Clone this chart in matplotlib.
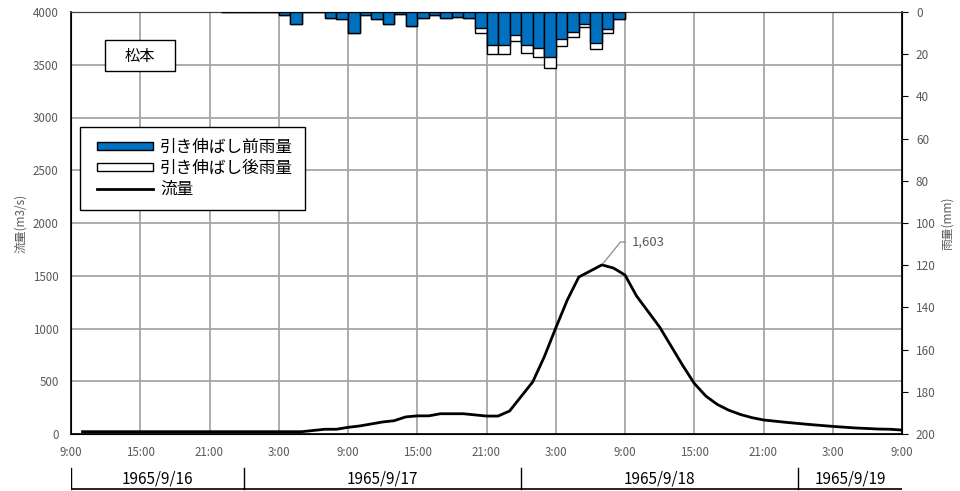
import numpy as np
import matplotlib
matplotlib.use("Agg")
import matplotlib.pyplot as plt
from matplotlib.patches import Patch, Rectangle
from matplotlib.lines import Line2D
from matplotlib.legend_handler import HandlerPatch, HandlerLine2D

plt.rcParams['font.family'] = ['Noto Sans CJK JP', 'DejaVu Sans']

# hours counted from 1965/9/16 9:00
rain_hours = list(range(13, 48))
# rainfall before stretching (mm/h)
rain_before = [0.2, 0.2, 0.2, 0.2, 0.2, 1.2, 5.7, 0.2, 0.0, 3.0,
               3.5, 10.0, 1.5, 3.4, 5.7, 1.0, 6.8, 3.0, 1.2, 3.0,
               2.2, 3.0, 7.8, 15.7, 15.6, 10.8, 15.6, 17.2, 21.2, 13.0,
               9.6, 5.7, 14.6, 8.0, 3.4]
# rainfall after stretching (mm/h)
rain_after = [0.2, 0.2, 0.2, 0.2, 0.2, 1.2, 5.7, 0.2, 0.0, 3.0,
              3.5, 10.0, 1.5, 3.4, 5.7, 1.0, 6.8, 3.0, 1.2, 3.0,
              2.2, 3.0, 10.1, 20.0, 20.0, 13.8, 19.3, 21.5, 26.5, 16.0,
              11.7, 7.3, 17.7, 10.1, 3.4]

flow_hours = [1, 20, 22, 23, 24, 25, 27, 28, 29, 30, 31, 32, 34, 36, 37, 38,
              40, 41, 42, 43, 44, 46, 47, 48, 49, 51, 53, 54, 55, 56, 57, 58,
              59, 60, 62, 64, 66, 68, 70, 71, 72]
flow = [22, 22, 45, 45, 63, 76, 114, 126, 162, 172, 172, 192, 192, 170, 170, 218,
        493, 730, 1005, 1270, 1488, 1603, 1573, 1507, 1308, 1014, 650, 480, 360, 280, 225, 185,
        155, 133, 110, 90, 72, 57, 47, 45, 37]

tick_hours = list(range(0, 73, 6))
tick_labels = ["9:00", "15:00", "21:00", "3:00", "9:00", "15:00", "21:00",
               "3:00", "9:00", "15:00", "21:00", "3:00", "9:00"]
day_edges = [0, 15, 39, 63, 72]
day_labels = ["1965/9/16", "1965/9/17", "1965/9/18", "1965/9/19"]

blue = '#0070C0'
grid_c = '#A6A6A6'
txt_c = '#595959'

fig = plt.figure(figsize=(9.6, 4.91), dpi=100)
L, B, W, H = 71/960, 1 - 434/491, 831/960, 422/491
ax = fig.add_axes([L, B, W, H])
ax2 = ax.twinx()

# flow (left axis)
ax.plot(flow_hours, flow, color='black', lw=2, zorder=3)
ax.set_xlim(0, 72)
ax.set_ylim(0, 4000)
ax.set_yticks(np.arange(0, 4001, 500))
ax.set_xticks(tick_hours)
ax.set_xticklabels(tick_labels)
ax.grid(True, color=grid_c, lw=1.3)
ax.set_axisbelow(True)
ax.tick_params(axis='both', length=0, labelsize=8.3, labelcolor=txt_c)
ax.tick_params(axis='x', pad=9)
ax.tick_params(axis='y', pad=9)
ax.set_ylabel("流量(m3/s)", fontsize=8.5, color=txt_c, labelpad=4)
for s in ['left', 'bottom']:
    ax.spines[s].set_color('black')
    ax.spines[s].set_linewidth(1.2)
ax.spines['top'].set_color('#404040')

# rain (right axis, inverted)
ax2.bar(rain_hours, rain_after, width=1, align='edge', color='white',
        edgecolor='black', lw=1, zorder=2)
ax2.bar(rain_hours, rain_before, width=1, align='edge', color=blue,
        edgecolor='black', lw=1, zorder=3)
ax2.set_ylim(200, 0)
ax2.set_yticks(np.arange(0, 201, 20))
ax2.tick_params(axis='y', length=4, labelsize=8.5, labelcolor=txt_c, pad=6)
ax2.set_ylabel("雨量(mm)", fontsize=8.5, color=txt_c, labelpad=4)
ax2.spines['right'].set_color('black')
ax2.spines['right'].set_linewidth(1.2)
ax2.spines['top'].set_color('#404040')

# peak label
ip = int(np.argmax(flow))
ax2.annotate(f"{flow[ip]:,}", xy=(flow_hours[ip], 200 - flow[ip] / 20),
             xytext=(48.6, 200 - 1820 / 20), ha='left', va='center',
             fontsize=9.5, color=txt_c,
             arrowprops=dict(arrowstyle='-', color='#8c8c8c', lw=0.9,
                             connectionstyle='angle,angleA=0,angleB=51',
                             shrinkA=3, shrinkB=1))

# station name
ax2.add_patch(Rectangle((34/831, 363/422), 70/831, 31/422, transform=ax2.transAxes,
                        facecolor='white', edgecolor='black', lw=1, zorder=5))
ax2.text(69/831, 378/422, "松本", transform=ax2.transAxes, ha='center', va='center',
         fontsize=11, zorder=6)

handles = [Patch(facecolor=blue, edgecolor='black', lw=1),
           Patch(facecolor='white', edgecolor='black', lw=1),
           Line2D([0], [0], color='black', lw=2)]
labels = ["引き伸ばし前雨量", "引き伸ばし後雨量", "流量"]
hmap = {Patch: HandlerPatch(xpad=0.3), Line2D: HandlerLine2D(xpad=0.3)}
leg = ax2.legend(handles, labels, loc='upper left', bbox_to_anchor=(0.0108, 0.7275),
                 borderaxespad=0, fontsize=12, fancybox=False, framealpha=1,
                 edgecolor='black', handlelength=3.7, handleheight=0.35,
                 handletextpad=0.4, labelspacing=0.25, borderpad=0.7,
                 handler_map=hmap)
leg.get_frame().set_linewidth(1)
leg.set_zorder(6)

# date row below the time axis
ax3 = fig.add_axes([L, 0, W, 29/491])
ax3.set_xlim(0, 72)
ax3.set_ylim(0, 29)
ax3.axis('off')
ax3.plot([day_edges[0], day_edges[-1]], [2, 2], color='black', lw=1.2)
for h in day_edges[:-1]:
    ax3.plot([h, h], [2, 23], color='black', lw=1)
for i, lab in enumerate(day_labels):
    ax3.text((day_edges[i] + day_edges[i + 1]) / 2, 12, lab, ha='center',
             va='center', fontsize=11, color='black')

fig.savefig("out.png", dpi=100)
